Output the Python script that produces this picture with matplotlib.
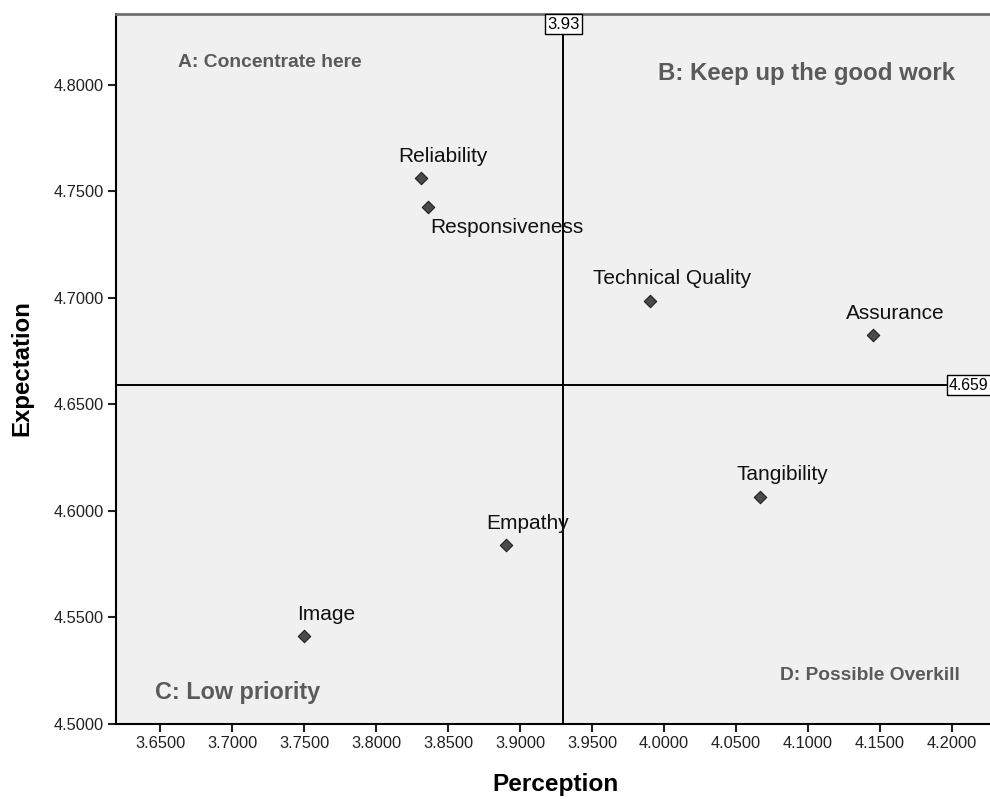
import matplotlib.pyplot as plt
from matplotlib.ticker import FormatStrFormatter

# Dimensions (mean scores)
dimensions = ["Reliability", "Responsiveness", "Technical Quality", "Assurance",
              "Tangibility", "Empathy", "Image"]
perception = [3.8313, 3.8361, 3.9903, 4.1451, 4.0667, 3.8903, 3.7500]
expectation = [4.7563, 4.7427, 4.6988, 4.6826, 4.6067, 4.5840, 4.5413]

# Reference lines (means)
perception_mean = 3.93
expectation_mean = 4.659

x_ticks = [3.65, 3.70, 3.75, 3.80, 3.85, 3.90, 3.95, 4.00, 4.05, 4.10, 4.15, 4.20]
y_ticks = [4.50, 4.55, 4.60, 4.65, 4.70, 4.75, 4.80]

plt.rcParams["font.family"] = ["Liberation Sans", "DejaVu Sans"]

W, H = 990, 799
L, R, T, B = 116, 994, 14, 724   # axes box in pixels (right edge runs off the image)

fig = plt.figure(figsize=(W / 100, H / 100), dpi=100)
ax = fig.add_axes([L / W, (H - B) / H, (R - L) / W, (B - T) / H])
ax.set_facecolor("#f0f0f0")

ax.set_xlim(3.6194, 3.6194 + (R - L) / 1440)
ax.set_ylim(4.5, 4.8333)
ax.set_xticks(x_ticks)
ax.set_yticks(y_ticks)
ax.xaxis.set_major_formatter(FormatStrFormatter("%.4f"))
ax.yaxis.set_major_formatter(FormatStrFormatter("%.4f"))
ax.tick_params(direction="out", length=6, width=1.5, labelsize=11.8, pad=3,
               colors="#222222")

for side in ["left", "bottom"]:
    ax.spines[side].set_linewidth(1.5)
    ax.spines[side].set_color("black")
ax.spines["top"].set_color("#707070")
ax.spines["top"].set_linewidth(2)
ax.spines["right"].set_visible(False)

# Quadrant lines
ax.axvline(perception_mean, color="black", lw=1.4, zorder=2)
ax.axhline(expectation_mean, color="black", lw=1.4, zorder=2)

box = dict(boxstyle="square,pad=0.15", fc="white", ec="black", lw=1)
ax.text(perception_mean, 4.8320, f"{perception_mean:.2f}", ha="center", va="top",
        fontsize=12, bbox=box, zorder=5)
ax.text(4.1979, expectation_mean, f"{expectation_mean:.3f}", ha="left", va="center",
        fontsize=11.4, bbox=box, zorder=5)

# Points
ax.scatter(perception, expectation, marker="D", s=40, c="#4a4a4a",
           edgecolors="#202020", linewidths=0.8, zorder=4)

for name, px, py in zip(dimensions, perception, expectation):
    if name == "Responsiveness":
        ax.annotate(name, (px, py), xytext=(2, -21), textcoords="offset pixels",
                    ha="left", va="center", fontsize=15, color="#111111")
    else:
        ax.annotate(name, (px, py), xytext=(22, 22), textcoords="offset pixels",
                    ha="center", va="center", fontsize=15, color="#111111")

# Quadrant captions
grey = "#5a5a5a"
ax.text(3.6625, 4.8104, "A: Concentrate here", fontsize=13.9, fontweight="bold",
        color=grey, va="center", ha="left")
ax.text(3.9958, 4.8053, "B: Keep up the good work", fontsize=17.3, fontweight="bold",
        color=grey, va="center", ha="left")
ax.text(3.6465, 4.5150, "C: Low priority", fontsize=16.8, fontweight="bold",
        color=grey, va="center", ha="left")
ax.text(4.0806, 4.5230, "D: Possible Overkill", fontsize=13.8, fontweight="bold",
        color=grey, va="center", ha="left")

ax.set_xlabel("Perception", fontsize=17.6, fontweight="bold")
ax.set_ylabel("Expectation", fontsize=17.3, fontweight="bold")
ax.xaxis.set_label_coords(0.5, (B - 773) / (B - T))
ax.yaxis.set_label_coords((33 - L) / (R - L), (B - 368) / (B - T))

fig.savefig("out.png", dpi=100)
